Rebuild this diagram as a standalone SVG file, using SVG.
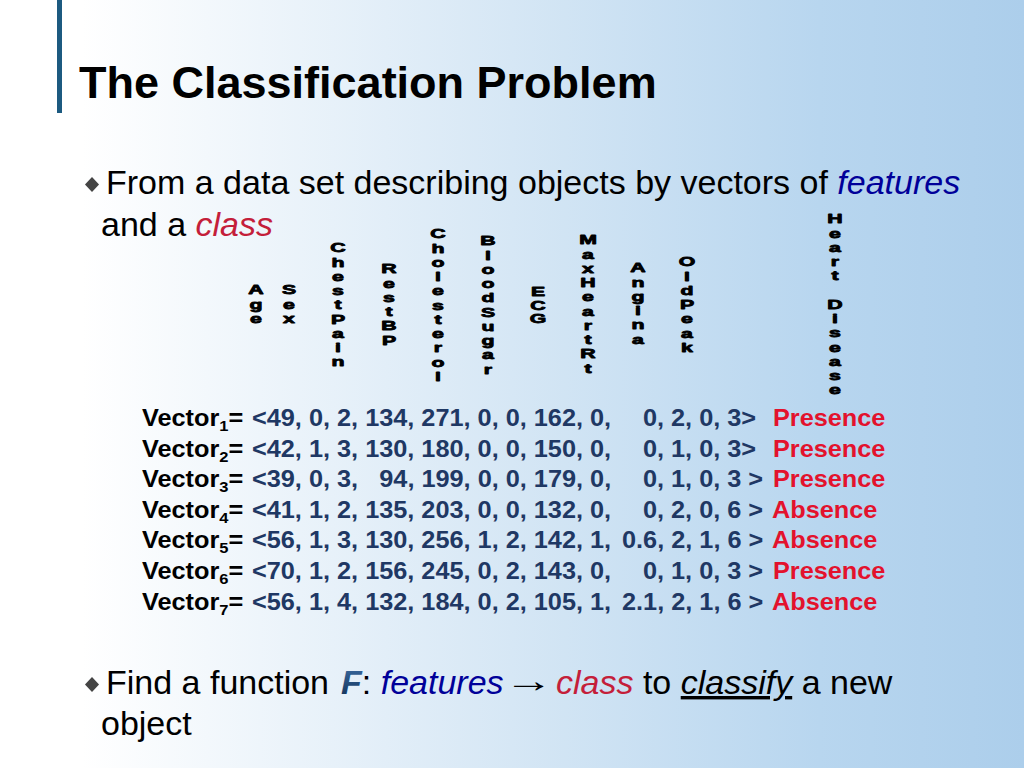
<svg xmlns="http://www.w3.org/2000/svg" width="1024" height="768" viewBox="0 0 1024 768">
<defs>
<linearGradient id="bg" x1="0" y1="0" x2="1024" y2="0" gradientUnits="userSpaceOnUse">
<stop offset="0" stop-color="#ffffff"/>
<stop offset="0.08" stop-color="#ffffff"/>
<stop offset="0.5" stop-color="#d6e7f5"/>
<stop offset="0.8" stop-color="#b8d6ef"/>
<stop offset="1" stop-color="#acceeb"/>
</linearGradient>
<linearGradient id="fgrad" x1="0" y1="0" x2="0" y2="1">
<stop offset="0" stop-color="#3d6fa6"/>
<stop offset="1" stop-color="#0f2d52"/>
</linearGradient>
<style>
.t{font-family:"Liberation Sans",Arial,sans-serif}
.body{font-size:34px;fill:#000}
.lbl{font-size:12.5px;font-weight:bold;fill:#000;stroke:#000;stroke-width:0.8px;stroke-linejoin:round;text-anchor:middle}
.vec{font-size:23px;font-weight:bold}
.k{fill:#000}.v{fill:#1f3864}.p{fill:#e3122d}
.feat{font-style:italic;fill:#000099}
.cls{font-style:italic;fill:#c41e3a}
.dia{fill:#444}
</style>
</defs>
<rect x="0" y="0" width="1024" height="768" fill="url(#bg)"/>
<rect id="bar" x="57" y="0" width="5" height="113" fill="#1c5a80"/>
<text id="title" class="t" x="79" y="98" font-size="45" font-weight="bold" fill="#000">The Classification Problem</text>

<g id="bullet1">
<polygon class="dia" points="92,177 99,184.5 92,192 85,184.5"/>
<text class="t body" x="106" y="194">From a data set describing objects by vectors of <tspan class="feat">features</tspan></text>
<text class="t body" x="101" y="236">and a <tspan class="cls">class</tspan></text>
</g>

<g id="labels">
<g id="lbl-age" transform="translate(256,0) scale(1.7,1)"><text class="t lbl" y="294.5"><tspan x="0">A</tspan><tspan x="0" dy="14.25">g</tspan><tspan x="0" dy="14.25">e</tspan></text></g>
<g id="lbl-sex" transform="translate(289,0) scale(1.7,1)"><text class="t lbl" y="294.5"><tspan x="0">S</tspan><tspan x="0" dy="14.25">e</tspan><tspan x="0" dy="14.25">x</tspan></text></g>
<g id="lbl-chestpain" transform="translate(338,0) scale(1.7,1)"><text class="t lbl" y="252.5"><tspan x="0">C</tspan><tspan x="0" dy="14.25">h</tspan><tspan x="0" dy="14.25">e</tspan><tspan x="0" dy="14.25">s</tspan><tspan x="0" dy="14.25">t</tspan><tspan x="0" dy="14.25">P</tspan><tspan x="0" dy="14.25">a</tspan><tspan x="0" dy="14.25">i</tspan><tspan x="0" dy="14.25">n</tspan></text></g>
<g id="lbl-restbp" transform="translate(389,0) scale(1.7,1)"><text class="t lbl" y="273.5"><tspan x="0">R</tspan><tspan x="0" dy="14.25">e</tspan><tspan x="0" dy="14.25">s</tspan><tspan x="0" dy="14.25">t</tspan><tspan x="0" dy="14.25">B</tspan><tspan x="0" dy="14.25">P</tspan></text></g>
<g id="lbl-cholesterol" transform="translate(438,0) scale(1.7,1)"><text class="t lbl" y="238.5"><tspan x="0">C</tspan><tspan x="0" dy="14.25">h</tspan><tspan x="0" dy="14.25">o</tspan><tspan x="0" dy="14.25">l</tspan><tspan x="0" dy="14.25">e</tspan><tspan x="0" dy="14.25">s</tspan><tspan x="0" dy="14.25">t</tspan><tspan x="0" dy="14.25">e</tspan><tspan x="0" dy="14.25">r</tspan><tspan x="0" dy="14.25">o</tspan><tspan x="0" dy="14.25">l</tspan></text></g>
<g id="lbl-bloodsugar" transform="translate(488,0) scale(1.7,1)"><text class="t lbl" y="245.5"><tspan x="0">B</tspan><tspan x="0" dy="14.25">l</tspan><tspan x="0" dy="14.25">o</tspan><tspan x="0" dy="14.25">o</tspan><tspan x="0" dy="14.25">d</tspan><tspan x="0" dy="14.25">S</tspan><tspan x="0" dy="14.25">u</tspan><tspan x="0" dy="14.25">g</tspan><tspan x="0" dy="14.25">a</tspan><tspan x="0" dy="14.25">r</tspan></text></g>
<g id="lbl-ecg" transform="translate(538,0) scale(1.7,1)"><text class="t lbl" y="296.5"><tspan x="0">E</tspan><tspan x="0" dy="13.5">C</tspan><tspan x="0" dy="13.5">G</tspan></text></g>
<g id="lbl-maxheartrt" transform="translate(588,0) scale(1.7,1)"><text class="t lbl" y="244.5"><tspan x="0">M</tspan><tspan x="0" dy="14.25">a</tspan><tspan x="0" dy="14.25">x</tspan><tspan x="0" dy="14.25">H</tspan><tspan x="0" dy="14.25">e</tspan><tspan x="0" dy="14.25">a</tspan><tspan x="0" dy="14.25">r</tspan><tspan x="0" dy="14.25">t</tspan><tspan x="0" dy="14.25">R</tspan><tspan x="0" dy="14.25">t</tspan></text></g>
<g id="lbl-angina" transform="translate(638,0) scale(1.7,1)"><text class="t lbl" y="272.5"><tspan x="0">A</tspan><tspan x="0" dy="14.25">n</tspan><tspan x="0" dy="14.25">g</tspan><tspan x="0" dy="14.25">i</tspan><tspan x="0" dy="14.25">n</tspan><tspan x="0" dy="14.25">a</tspan></text></g>
<g id="lbl-oldpeak" transform="translate(687,0) scale(1.7,1)"><text class="t lbl" y="266.5"><tspan x="0">O</tspan><tspan x="0" dy="14.25">l</tspan><tspan x="0" dy="14.25">d</tspan><tspan x="0" dy="14.25">P</tspan><tspan x="0" dy="14.25">e</tspan><tspan x="0" dy="14.25">a</tspan><tspan x="0" dy="14.25">k</tspan></text></g>
<g id="lbl-heartdisease" transform="translate(835,0) scale(1.7,1)"><text class="t lbl" y="223.5"><tspan x="0">H</tspan><tspan x="0" dy="14.25">e</tspan><tspan x="0" dy="14.25">a</tspan><tspan x="0" dy="14.25">r</tspan><tspan x="0" dy="14.25">t</tspan><tspan x="0" dy="28.5">D</tspan><tspan x="0" dy="14.25">i</tspan><tspan x="0" dy="14.25">s</tspan><tspan x="0" dy="14.25">e</tspan><tspan x="0" dy="14.25">a</tspan><tspan x="0" dy="14.25">s</tspan><tspan x="0" dy="14.25">e</tspan></text></g>
</g>

<g id="vectors" class="t vec" transform="scale(1.1,1)">
<g id="vec1">
<text class="k" x="129.1" y="426">Vector<tspan font-size="15" dy="5">1</tspan><tspan dy="-5">=</tspan></text>
<text class="v" x="229.1" y="426">&lt;49, 0, 2, 134, 271, 0, 0, 162, 0,</text>
<text class="v" x="584.5" y="426">0, 2, 0, 3&gt;</text>
<text class="p" x="702.7" y="426">Presence</text>
</g>
<g id="vec2">
<text class="k" x="129.1" y="456.6">Vector<tspan font-size="15" dy="5">2</tspan><tspan dy="-5">=</tspan></text>
<text class="v" x="229.1" y="456.6">&lt;42, 1, 3, 130, 180, 0, 0, 150, 0,</text>
<text class="v" x="584.5" y="456.6">0, 1, 0, 3&gt;</text>
<text class="p" x="702.7" y="456.6">Presence</text>
</g>
<g id="vec3">
<text class="k" x="129.1" y="487.2">Vector<tspan font-size="15" dy="5">3</tspan><tspan dy="-5">=</tspan></text>
<text class="v" x="229.1" y="487.2">&lt;39, 0, 3,</text>
<text class="v" x="344.8" y="487.2">94, 199, 0, 0, 179, 0,</text>
<text class="v" x="584.5" y="487.2">0, 1, 0, 3 &gt;</text>
<text class="p" x="702.7" y="487.2">Presence</text>
</g>
<g id="vec4">
<text class="k" x="129.1" y="517.8">Vector<tspan font-size="15" dy="5">4</tspan><tspan dy="-5">=</tspan></text>
<text class="v" x="229.1" y="517.8">&lt;41, 1, 2, 135, 203, 0, 0, 132, 0,</text>
<text class="v" x="584.5" y="517.8">0, 2, 0, 6 &gt;</text>
<text class="p" x="701.8" y="517.8">Absence</text>
</g>
<g id="vec5">
<text class="k" x="129.1" y="548.4">Vector<tspan font-size="15" dy="5">5</tspan><tspan dy="-5">=</tspan></text>
<text class="v" x="229.1" y="548.4">&lt;56, 1, 3, 130, 256, 1, 2, 142, 1,</text>
<text class="v" x="565.5" y="548.4">0.6, 2, 1, 6 &gt;</text>
<text class="p" x="701.8" y="548.4">Absence</text>
</g>
<g id="vec6">
<text class="k" x="129.1" y="579">Vector<tspan font-size="15" dy="5">6</tspan><tspan dy="-5">=</tspan></text>
<text class="v" x="229.1" y="579">&lt;70, 1, 2, 156, 245, 0, 2, 143, 0,</text>
<text class="v" x="584.5" y="579">0, 1, 0, 3 &gt;</text>
<text class="p" x="702.7" y="579">Presence</text>
</g>
<g id="vec7">
<text class="k" x="129.1" y="609.6">Vector<tspan font-size="15" dy="5">7</tspan><tspan dy="-5">=</tspan></text>
<text class="v" x="229.1" y="609.6">&lt;56, 1, 4, 132, 184, 0, 2, 105, 1,</text>
<text class="v" x="565.5" y="609.6">2.1, 2, 1, 6 &gt;</text>
<text class="p" x="701.8" y="609.6">Absence</text>
</g>
</g>

<g id="bullet2">
<polygon class="dia" points="92,677 99,684.5 92,692 85,684.5"/>
<text class="t body" x="106" y="694">Find a function <tspan x="341" font-weight="bold" font-style="italic" fill="url(#fgrad)">F</tspan>: <tspan class="feat">features</tspan><tspan x="556" class="cls">class</tspan> to <tspan font-style="italic" text-decoration="underline">classify</tspan> a new</text>
<text class="t body" transform="translate(504,-2) scale(1.45,1)" x="0" y="694">→</text>
<text class="t body" x="101" y="735">object</text>
</g>
</svg>
